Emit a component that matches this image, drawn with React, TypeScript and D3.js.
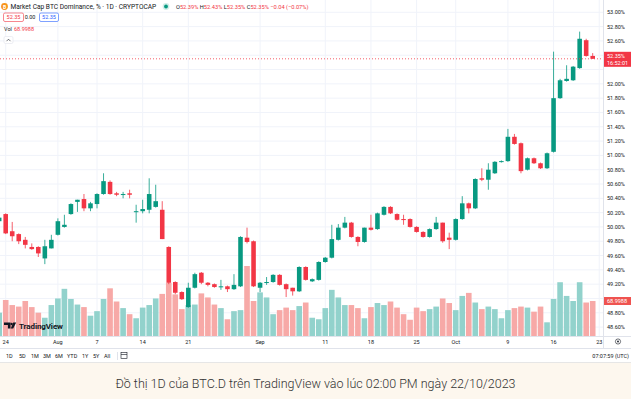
import React from "react";
import * as d3 from "d3";

const startDate = Date.UTC(2023, 6, 23);
const opens = [50.08,50.18,49.94,49.90,49.82,49.72,49.72,49.56,49.70,49.89,50.00,50.18,50.35,50.39,50.26,50.32,50.46,50.63,50.47,50.45,50.47,50.21,50.22,50.24,50.28,50.24,49.72,49.23,49.09,48.88,49.15,49.36,49.22,49.20,49.16,49.17,49.13,49.17,49.85,49.80,49.15,49.22,49.23,49.33,49.20,49.15,49.10,49.44,49.24,49.26,49.51,49.57,49.82,49.99,50.06,49.86,49.79,49.99,49.97,50.17,50.28,50.18,50.11,50.11,50.00,49.93,49.86,49.97,50.06,49.85,49.82,50.11,50.33,50.26,50.68,50.66,50.75,50.91,50.92,51.26,51.17,50.80,50.96,50.89,50.82,51.05,51.80,52.04,52.05,52.22,52.61,52.39];
const highs = [50.17,50.19,50.07,49.91,49.86,49.77,49.73,49.82,49.89,50.12,50.17,50.33,50.38,50.46,50.35,50.47,50.75,50.65,50.49,50.49,50.52,50.31,50.38,50.68,50.59,50.36,49.73,49.24,49.10,49.22,49.36,49.37,49.23,49.21,49.26,49.18,49.34,49.87,49.99,49.81,49.23,49.30,49.34,49.34,49.21,49.15,49.45,49.45,49.28,49.52,49.58,50.03,50.04,50.14,50.07,49.87,49.99,50.17,50.20,50.29,50.29,50.19,50.17,50.12,50.01,49.94,49.98,50.14,50.06,49.92,50.12,50.43,50.34,50.68,50.82,50.89,50.92,50.93,51.37,51.30,51.18,50.97,50.97,50.90,51.04,52.45,52.07,52.26,52.25,52.73,52.63,52.43];
const lows = [50.05,49.90,49.80,49.76,49.70,49.68,49.58,49.48,49.70,49.88,49.99,50.17,50.21,50.22,50.22,50.26,50.45,50.45,50.43,50.40,50.40,50.06,50.19,50.19,50.27,49.83,49.20,49.06,48.98,48.87,49.14,49.20,49.17,49.15,49.12,49.09,49.12,49.16,49.77,49.16,49.09,49.19,49.22,49.18,49.02,49.04,49.09,49.25,49.23,49.25,49.50,49.56,49.81,49.98,49.85,49.73,49.78,49.95,49.96,50.16,50.18,50.09,50.03,49.99,49.92,49.85,49.85,49.96,49.78,49.69,49.81,50.10,50.19,50.25,50.64,50.52,50.74,50.90,50.91,51.15,50.75,50.79,50.88,50.81,50.81,51.04,51.79,52.03,52.04,52.21,52.38,52.35];
const closes = [50.13,49.91,49.87,49.80,49.75,49.69,49.63,49.73,49.82,50.08,50.03,50.32,50.38,50.26,50.33,50.46,50.64,50.46,50.45,50.46,50.45,50.22,50.25,50.46,50.36,49.83,49.22,49.08,48.99,49.15,49.34,49.22,49.19,49.16,49.17,49.13,49.19,49.86,49.79,49.17,49.22,49.23,49.33,49.19,49.13,49.10,49.44,49.26,49.27,49.51,49.57,49.83,49.99,50.06,49.86,49.79,49.99,49.96,50.19,50.28,50.19,50.10,50.10,50.00,49.93,49.86,49.97,50.06,49.80,49.82,50.11,50.33,50.26,50.67,50.66,50.80,50.91,50.92,51.26,51.16,50.78,50.96,50.89,50.82,51.03,51.80,52.05,52.07,52.24,52.63,52.39,52.35];
const volumes = [46,71,61,58,69,57,46,36,61,74,93,73,62,57,40,49,73,94,68,55,43,35,56,61,74,83,105,82,53,61,62,84,76,62,55,33,49,51,138,69,86,76,43,51,56,51,59,66,36,33,55,91,76,61,61,55,35,57,65,61,68,56,43,32,56,49,53,58,74,65,51,79,85,66,53,58,53,35,51,55,58,56,48,58,27,73,106,79,69,106,66,68.9988];

const priceTicks = [48.6,48.8,49.0,49.2,49.4,49.6,49.8,50.0,50.2,50.4,50.6,50.8,51.0,51.2,51.4,51.6,51.8,52.0,52.2,52.4,52.6,52.8,53.0];
const dateTicks = ["2023-07-24","2023-08-01","2023-08-07","2023-08-14","2023-08-21","2023-09-01","2023-09-11","2023-09-18","2023-09-25","2023-10-01","2023-10-09","2023-10-16","2023-10-23"];
const dateTickLabels = ["24","Aug","7","14","21","Sep","11","18","25","Oct","9","16","23"];
const rangeButtons = ["1D","5D","1M","3M","6M","YTD","1Y","5Y","All"];

const lastPrice = 52.35;
const lastVolLabel = "68.9988";

const UP = "#089981";
const DOWN = "#f23645";
const UPV = "#92d2cc";
const DOWNV = "#f7a9a7";
const FONT = "Roboto, 'Noto Sans', sans-serif";

export default function App() {
  const W = 631, H = 399;
  const plotR = 603, plotB = 336;
  const DAY = 86400000;
  const dates = opens.map((_, i) => new Date(startDate + i * DAY));
  const x = d3.scaleUtc()
    .domain([new Date(Date.UTC(2023, 6, 24)), new Date(Date.UTC(2023, 9, 22))])
    .range([5.7, 592.7]);
  const y = d3.scaleLinear().domain([48.6, 53]).range([327.1, 12.3]);
  const yv = d3.scaleLinear().domain([0, 68.9988]).range([plotB, 301]);
  const step = x(new Date(Date.UTC(2023, 6, 25))) - x(new Date(Date.UTC(2023, 6, 24)));
  const bodyW = step * 0.7;
  const volW = step - 0.9;

  const priceBoxTop = y(lastPrice) - 7;
  const priceBoxBot = y(lastPrice) + 8;
  const volBoxTop = yv(68.9988) - 4;
  const volBoxBot = yv(68.9988) + 4;
  const visibleTicks = priceTicks.filter((t) => {
    const yy = y(t);
    const hitPrice = yy + 3 > priceBoxTop && yy - 3 < priceBoxBot;
    const hitVol = yy + 3 > volBoxTop && yy - 3 < volBoxBot;
    return !hitPrice && !hitVol;
  });

  const ohlc = [
    { k: "O", v: "52.39%" },
    { k: "H", v: "52.43%" },
    { k: "L", v: "52.35%" },
    { k: "C", v: "52.35%" },
  ];

  return (
    <div style={{ position: "fixed", left: 0, top: 0, width: W, height: H }}>
      <svg width={W} height={H} style={{ display: "block" }} fontFamily={FONT}>
        <defs>
          <clipPath id="plot">
            <rect x={0} y={0} width={plotR} height={plotB} />
          </clipPath>
        </defs>
        <rect x={0} y={0} width={W} height={363} fill="#ffffff" />
        <rect x={0} y={363} width={W} height={H - 363} fill="#fdf7ee" />
        <line x1={0} x2={W} y1={362.5} y2={362.5} stroke="#e6e6e6" />

        {/* grid */}
        <g clipPath="url(#plot)">
          {priceTicks.map((t) => (
            <line key={"h" + t} x1={0} x2={plotR} y1={y(t)} y2={y(t)} stroke="#f0f3fa" strokeWidth={1} />
          ))}
          {dateTicks.map((d) => {
            const xx = x(new Date(d + "T00:00:00Z"));
            return <line key={"v" + d} x1={xx} x2={xx} y1={0} y2={plotB} stroke="#f0f3fa" strokeWidth={1} />;
          })}

          {/* volume */}
          {volumes.map((v, i) => (
            <rect
              key={"vol" + i}
              x={x(dates[i]) - volW / 2}
              y={yv(v)}
              width={volW}
              height={plotB - yv(v)}
              fill={closes[i] >= opens[i] ? UPV : DOWNV}
            />
          ))}

          {/* candles */}
          {opens.map((o, i) => {
            const c = closes[i];
            const up = c >= o;
            const col = up ? UP : DOWN;
            const cx = x(dates[i]);
            const top = y(Math.max(o, c));
            const bot = y(Math.min(o, c));
            return (
              <g key={"c" + i}>
                <line x1={cx} x2={cx} y1={y(highs[i])} y2={y(lows[i])} stroke={col} strokeWidth={0.8} />
                <rect x={cx - bodyW / 2} y={top} width={bodyW} height={Math.max(1, bot - top)} fill={col} />
              </g>
            );
          })}

          {/* last price line */}
          <line x1={0} x2={plotR} y1={y(lastPrice)} y2={y(lastPrice)} stroke={DOWN} strokeWidth={0.8} strokeDasharray="1,2" />
        </g>

        {/* axes lines */}
        <line x1={plotR + 0.5} x2={plotR + 0.5} y1={0} y2={348} stroke="#e0e3eb" />
        <line x1={0} x2={W} y1={plotB + 0.5} y2={plotB + 0.5} stroke="#e0e3eb" />
        <line x1={0} x2={W} y1={348.5} y2={348.5} stroke="#e0e3eb" />

        {/* price axis labels */}
        {visibleTicks.map((t) => (
          <text key={"pl" + t} x={607} y={y(t) + 2} fontSize={5.5} fill="#131722">
            {t.toFixed(2) + "%"}
          </text>
        ))}
        <rect x={plotR + 1} y={priceBoxTop} width={W - plotR - 1} height={priceBoxBot - priceBoxTop} fill={DOWN} />
        <text x={607} y={y(lastPrice) - 0.5} fontSize={5.5} fill="#fff">{lastPrice.toFixed(2) + "%"}</text>
        <text x={607} y={y(lastPrice) + 6} fontSize={5.5} fill="#fff">16:52:01</text>
        <rect x={plotR + 1} y={volBoxTop} width={W - plotR - 1} height={volBoxBot - volBoxTop} fill="#ef5350" />
        <text x={607} y={yv(68.9988) + 2} fontSize={5.5} fill="#fff">{lastVolLabel}</text>

        {/* date labels */}
        {dateTicks.map((d, i) => (
          <text key={"dl" + d} x={x(new Date(d + "T00:00:00Z"))} y={343.5} fontSize={5.5} fill="#131722" textAnchor="middle">
            {dateTickLabels[i]}
          </text>
        ))}
        <circle cx={618} cy={341.5} r={2.6} fill="none" stroke="#131722" strokeWidth={0.6} />
        <circle cx={618} cy={341.5} r={0.9} fill="#131722" />

        {/* bottom toolbar */}
        {rangeButtons.map((b, i) => {
          const xs = [6, 19, 31, 43, 55, 67, 82, 93, 104];
          return (
            <text key={"rb" + b} x={xs[i]} y={358} fontSize={5.5} fill="#131722">{b}</text>
          );
        })}
        <line x1={117.5} x2={117.5} y1={352} y2={360} stroke="#e0e3eb" />
        <g stroke="#131722" strokeWidth={0.6} fill="none">
          <rect x={121} y={352.5} width={6} height={6} />
          <line x1={121} x2={127} y1={354.5} y2={354.5} />
        </g>
        <text x={629} y={358} fontSize={5.5} fill="#131722" textAnchor="end">07:07:59 (UTC)</text>

        {/* TradingView logo */}
        <g fill="#131722">
          <path d="M4 322.5 h6.5 v6 h-2.6 v-3.4 h-3.9z" />
          <circle cx={11.6} cy={324} r={1.2} />
          <path d="M13.2 322.5 h3 l-3 6 h-2.4z" />
          <text x={19} y={328.5} fontSize={8} fontWeight={700} letterSpacing={-0.1}>TradingView</text>
        </g>

        {/* header */}
        <circle cx={4.5} cy={6.5} r={3.4} fill="#f7931a" />
        <text x={4.5} y={8.6} fontSize={5} fill="#fff" textAnchor="middle" fontWeight={700}>B</text>
        <text x={10.5} y={9} fontSize={6.6} fill="#131722">Market Cap BTC Dominance, % · 1D · CRYPTOCAP</text>
        <circle cx={166} cy={6.5} r={3.4} fill="rgba(8,153,129,0.18)" />
        <circle cx={166} cy={6.5} r={1.9} fill={UP} />
        <text x={176} y={9} fontSize={5.7} fill="#131722">
          {ohlc.map((d) => (
            <React.Fragment key={d.k}>
              <tspan>{d.k}</tspan>
              <tspan fill={DOWN}>{d.v + " "}</tspan>
            </React.Fragment>
          ))}
          <tspan fill={DOWN}>−0.04 (−0.07%)</tspan>
        </text>

        <rect x={3.5} y={13} width={20} height={8.5} rx={1.5} fill="#fff" stroke={DOWN} strokeWidth={0.6} />
        <text x={13.5} y={19.3} fontSize={5.5} fill={DOWN} textAnchor="middle">52.35</text>
        <text x={30} y={19.3} fontSize={5.5} fill="#131722" textAnchor="middle">0.00</text>
        <rect x={39.5} y={13} width={19} height={8.5} rx={1.5} fill="#fff" stroke="#2962ff" strokeWidth={0.6} />
        <text x={49} y={19.3} fontSize={5.5} fill="#2962ff" textAnchor="middle">52.35</text>

        <text x={4} y={30.5} fontSize={5.5} fill="#131722">Vol</text>
        <text x={14} y={30.5} fontSize={5.5} fill={DOWN}>{lastVolLabel}</text>

        <rect x={4} y={36.5} width={9} height={7} rx={1.5} fill="#fff" stroke="#e0e3eb" strokeWidth={0.6} />
        <path d="M6.5 41.2 L8.5 39.2 L10.5 41.2" fill="none" stroke="#131722" strokeWidth={0.6} />

        {/* caption */}
        <text x={315.5} y={388} fontSize={12.5} fill="#333333" textAnchor="middle" fontWeight={300}>
          Đồ thị 1D của BTC.D trên TradingView vào lúc 02:00 PM ngày 22/10/2023
        </text>
      </svg>
    </div>
  );
}
